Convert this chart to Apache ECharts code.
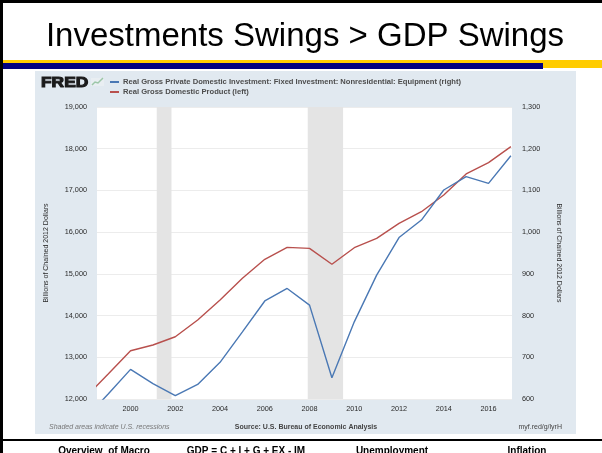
<!DOCTYPE html>
<html>
<head>
<meta charset="utf-8">
<script src="https://cdn.jsdelivr.net/npm/echarts@6/dist/echarts.min.js"></script>
<style>
  html, body { margin: 0; padding: 0; background: #fff; }
  #chart { width: 602px; height: 453px; }
</style>
</head>
<body>
<div id="chart"></div>
<script>
// Annual observations (billions of chained 2012 dollars)
const years = [1998, 1999, 2000, 2001, 2002, 2003, 2004, 2005, 2006, 2007,
               2008, 2009, 2010, 2011, 2012, 2013, 2014, 2015, 2016, 2017];
const gdp = [12050, 12600, 13157, 13294, 13493, 13893, 14373, 14893, 15349, 15636,
             15612, 15229, 15627, 15851, 16211, 16490, 16890, 17394, 17665, 18050];
const equipment = [555, 612, 671, 637, 608, 635, 688, 761, 835, 865,
                   825, 651, 785, 897, 987, 1029, 1101, 1133, 1117, 1183];
// NBER recessions as fractional years
const recessions = [[2001.17, 2001.83], [2007.92, 2009.5]];
const xTicks = [2000, 2002, 2004, 2006, 2008, 2010, 2012, 2014, 2016];

const equipName = 'Real Gross Private Domestic Investment: Fixed Investment: Nonresidential: Equipment (right)';
const gdpName = 'Real Gross Domestic Product (left)';
const slideTitle = 'Investments Swings > GDP Swings';
const footer = [
  { text: 'Overview  of Macro', x: 104 },
  { text: 'GDP = C + I + G + EX - IM', x: 246 },
  { text: 'Unemployment', x: 392 },
  { text: 'Inflation', x: 527 }
];

const font = 'Liberation Sans, Arial, sans-serif';
const fmt = v => Number(v).toLocaleString('en-US');

const chart = echarts.init(document.getElementById('chart'), null, { renderer: 'canvas' });

const graphics = [
  // slide frame and header bands
  { type: 'rect', z: -10, shape: { x: 0, y: 0, width: 602, height: 3 }, style: { fill: '#000' } },
  { type: 'rect', z: -10, shape: { x: 0, y: 0, width: 3, height: 453 }, style: { fill: '#000' } },
  { type: 'rect', z: -10, shape: { x: 3, y: 60, width: 599, height: 8 }, style: { fill: '#ffcc00' } },
  { type: 'rect', z: -9, shape: { x: 3, y: 63, width: 540, height: 6 }, style: { fill: '#000080' } },
  { type: 'rect', z: -10, shape: { x: 0, y: 439, width: 602, height: 2 }, style: { fill: '#000' } },
  // FRED panel
  { type: 'rect', z: -20, shape: { x: 35, y: 71, width: 541, height: 363 }, style: { fill: '#e1e9f0' } },
  { type: 'rect', z: -19, shape: { x: 97, y: 107, width: 415, height: 292 }, style: { fill: '#ffffff' } },
  // FRED logo
  { type: 'text', x: 41, y: 76.5, scaleX: 1.24, style: { text: 'FRED', font: 'bold 14px ' + font, fill: '#1a1a1a', stroke: '#1a1a1a', lineWidth: 1, textVerticalAlign: 'top' } },
  { type: 'rect', shape: { x: 91, y: 78, width: 13, height: 8 }, style: { fill: '#e9eef2' } },
  { type: 'polyline', shape: { points: [[92, 85], [95, 82], [98, 83], [103, 78]] }, style: { stroke: '#9cc7a8', lineWidth: 1.5, fill: null } },
  // panel footnotes
  { type: 'text', x: 49, y: 427, style: { text: 'Shaded areas indicate U.S. recessions', font: 'italic 7px ' + font, fill: '#777', textVerticalAlign: 'middle' } },
  { type: 'text', x: 306, y: 427, style: { text: 'Source: U.S. Bureau of Economic Analysis', font: 'bold 7px ' + font, fill: '#444', textAlign: 'center', textVerticalAlign: 'middle' } },
  { type: 'text', x: 562, y: 427, style: { text: 'myf.red/g/lyrH', font: '7px ' + font, fill: '#444', textAlign: 'right', textVerticalAlign: 'middle' } },
  // slide title
  { type: 'text', x: 305, y: 37, style: { text: slideTitle, font: '33px ' + font, fill: '#000', textAlign: 'center', textVerticalAlign: 'middle' } }
];
footer.forEach(f => graphics.push({
  type: 'text', x: f.x, y: 446,
  style: { text: f.text, font: 'bold 10px ' + font, fill: '#000', textAlign: 'center', textVerticalAlign: 'top' }
}));

const option = {
  animation: false,
  backgroundColor: '#fff',
  graphic: graphics,
  legend: {
    orient: 'vertical',
    left: 110, top: 78,
    padding: 0,
    itemGap: 2,
    itemWidth: 9, itemHeight: 2,
    icon: 'rect',
    data: [equipName, gdpName],
    textStyle: { fontFamily: font, fontSize: 7.6, fontWeight: 'bold', color: '#4d4d4d', padding: [0, 0, 0, -1] },
    selectedMode: false
  },
  grid: { left: 97, right: 90, top: 107, bottom: 54, containLabel: false },
  xAxis: {
    type: 'value',
    min: 1998.5, max: 2017.05,
    axisLine: { show: false },
    axisTick: { show: false },
    splitLine: { show: false },
    axisLabel: {
      customValues: xTicks,
      margin: 6,
      fontFamily: font, fontSize: 7.3, color: '#2b2b2b',
      formatter: v => String(v)
    }
  },
  yAxis: [
    {
      type: 'value', position: 'left',
      min: 12000, max: 19000, interval: 1000,
      name: 'Billions of Chained 2012 Dollars',
      nameLocation: 'middle', nameRotate: 90, nameGap: 47,
      nameTextStyle: { fontFamily: font, fontSize: 7, color: '#2b2b2b' },
      axisLine: { show: false }, axisTick: { show: false },
      axisLabel: { margin: 10, fontFamily: font, fontSize: 7.3, color: '#2b2b2b', formatter: fmt },
      splitLine: { lineStyle: { color: '#ececec', width: 1 } }
    },
    {
      type: 'value', position: 'right',
      min: 600, max: 1300, interval: 100,
      name: 'Billions of Chained 2012 Dollars',
      nameLocation: 'middle', nameRotate: -90, nameGap: 43,
      nameTextStyle: { fontFamily: font, fontSize: 7, color: '#2b2b2b' },
      axisLine: { show: false }, axisTick: { show: false },
      axisLabel: { margin: 10, fontFamily: font, fontSize: 7.3, color: '#2b2b2b', formatter: fmt },
      splitLine: { show: false }
    }
  ],
  series: [
    {
      name: equipName,
      type: 'line',
      yAxisIndex: 1,
      data: years.map((y, i) => [y, equipment[i]]),
      showSymbol: false,
      clip: true,
      color: '#4a78b4',
      lineStyle: { width: 1.4, color: '#4a78b4' },
      z: 3
    },
    {
      name: gdpName,
      type: 'line',
      yAxisIndex: 0,
      data: years.map((y, i) => [y, gdp[i]]),
      showSymbol: false,
      clip: true,
      color: '#b8504d',
      lineStyle: { width: 1.4, color: '#b8504d' },
      z: 2,
      markArea: {
        silent: true,
        itemStyle: { color: '#e4e4e4' },
        data: recessions.map(r => [{ xAxis: r[0] }, { xAxis: r[1] }])
      }
    }
  ]
};

chart.setOption(option);
</script>
</body>
</html>
